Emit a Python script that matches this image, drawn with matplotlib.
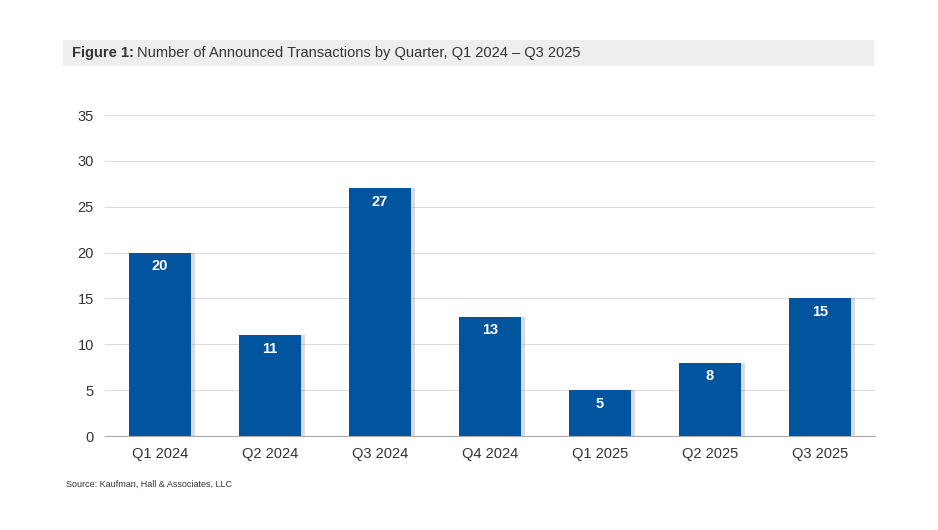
import matplotlib
matplotlib.use('Agg')
import matplotlib.pyplot as plt
from matplotlib.patches import Rectangle

plt.rcParams['font.family'] = ['Liberation Sans', 'DejaVu Sans']

quarters = ['Q1 2024', 'Q2 2024', 'Q3 2024', 'Q4 2024', 'Q1 2025', 'Q2 2025', 'Q3 2025']
deals = [20, 11, 27, 13, 5, 8, 15]

bar_color = '#00559E'
text_color = '#333333'

fig = plt.figure(figsize=(9.38, 5.30), dpi=100)

# title band
fig.patches.append(Rectangle((63 / 938, 1 - 66 / 530), (874 - 63) / 938, 26 / 530,
                             transform=fig.transFigure, facecolor='#EEEEEE',
                             edgecolor='none', zorder=0))
fig.text(72 / 938, 1 - 53 / 530, 'Figure 1:', fontsize=10.5, va='center',
         color=text_color, fontweight='bold')
fig.text(137 / 938, 1 - 53 / 530,
         'Number of Announced Transactions by Quarter, Q1 2024 \u2013 Q3 2025',
         fontsize=10.5, va='center', color=text_color)

ax = fig.add_axes([105 / 938, 94 / 530, 770 / 938, 321 / 530])
x = range(len(quarters))

# soft shadow behind the bars
ax.bar([i + 0.03 for i in x], deals, width=0.57, color='#888888', alpha=0.3, zorder=2)
bars = ax.bar(x, deals, width=0.57, color=bar_color, zorder=3)

for b, v in zip(bars, deals):
    ax.text(b.get_x() + b.get_width() / 2, v - 0.7, str(v), ha='center', va='top',
            color='white', fontweight='bold', fontsize=10.5, zorder=4)

ax.set_xlim(-0.5, 6.5)
ax.set_ylim(0, 35)
ax.set_yticks(range(0, 36, 5))
ax.set_xticks(list(x))
ax.set_xticklabels(quarters)
ax.tick_params(length=0, labelsize=10.5, colors=text_color)
ax.tick_params(axis='x', pad=8)
ax.tick_params(axis='y', pad=8)
ax.grid(axis='y', color='#DDDDDD', linewidth=0.8)
ax.set_axisbelow(True)
for s in ['top', 'right', 'left']:
    ax.spines[s].set_visible(False)
ax.spines['bottom'].set_color('#AAAAAA')

fig.text(66 / 938, 1 - 484 / 530, 'Source: Kaufman, Hall & Associates, LLC',
         fontsize=6.5, va='center', color=text_color)

plt.savefig('out.png', dpi=100)
